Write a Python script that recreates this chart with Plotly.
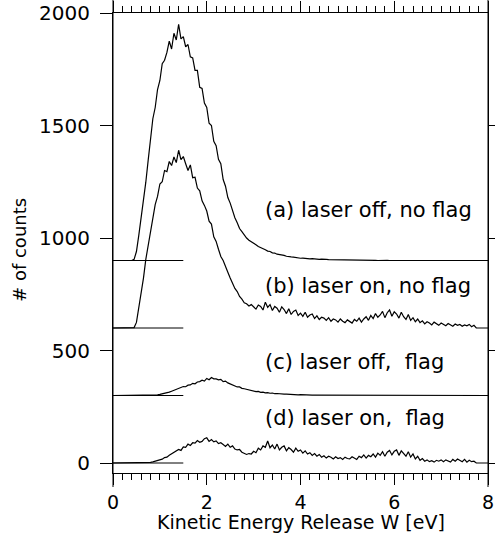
import plotly.graph_objects as go

# Kinetic energy release spectra, bin width 0.05 eV starting at 0 eV (counts above each offset)
bin_width = 0.05

counts_a = [
    0, 0, 0, 0, 0, 0, 0, 0, 0,
    5, 40, 112, 188, 272, 348, 445, 535,
    630, 680, 760, 800, 875, 890, 925, 975, 940, 1010,
    980, 1050, 985, 995, 950, 960, 905, 900, 845, 845,
    770, 765, 700, 680, 610, 600, 530, 510, 450, 430,
    360, 330, 280, 255, 220, 190, 168, 142, 128, 112,
    100, 90, 84, 76,
    70, 62, 58, 52, 48, 42, 40, 34, 33, 28,
    27, 23, 23, 19, 19, 16, 15, 13, 13, 10,
    11, 9, 9, 7, 8, 6, 7, 5, 6, 4,
    5, 4, 4, 3, 3, 3, 2, 3, 2, 2,
    2, 1, 2, 1, 2, 1, 1, 2, 1, 1,
    1, 1, 0, 1, 1, 0, 1, 0, 1, 0,
    0, 0, 0, 0, 0, 0, 0, 0, 0, 0,
    0, 0, 0, 0, 0, 0, 0, 0, 0, 0,
    0, 0, 0, 0, 0, 0, 0, 0, 0, 0,
    0, 0, 0, 0, 0, 0, 0, 0, 0, 0,
]

counts_b = [
    0, 0, 0, 0, 0, 0, 0, 0, 0,
    2, 25, 85, 152, 222, 305, 365, 440,
    490, 548, 585, 640, 650, 700, 695, 740, 722, 760,
    735, 790, 748, 762, 730, 700, 725, 668, 670, 622,
    610, 565, 545, 520, 475, 462, 405, 385, 350, 318,
    300, 270, 248, 222, 200, 176, 162, 140, 128, 112,
    108, 98, 104, 92,
    84, 102, 96, 80, 115, 92, 104, 78, 96, 88,
    70, 94, 82, 64, 86, 60, 74, 80, 56, 66,
    52, 70, 48, 58, 62, 42, 54, 38, 48, 44,
    34, 46, 30, 40, 36, 26, 40, 30, 24, 36,
    28, 22, 38, 30, 44, 26, 40, 50, 34, 56,
    42, 64, 48, 58, 74, 46, 68, 80, 52, 72,
    62, 44, 70, 50, 38, 60, 34, 46, 28, 40,
    24, 32, 18, 28, 22, 14, 26, 18, 12, 22,
    16, 10, 20, 14, 8, 18, 12, 16, 8, 14,
    10, 16, 6, 12, 0, 0, 0, 0, 0, 0,
]

counts_c = [
    0, 0, 0, 0, 0, 0, 0, 0, 0, 0, 0, 0, 0, 0, 0, 0,
    0, 1, 2, 3, 5, 7, 9, 12, 15, 19,
    23, 26, 31, 33, 40, 39, 46, 47, 54, 52,
    60, 62, 68, 64, 76, 70, 80, 74, 74, 70,
    72, 62, 64, 56, 52, 48, 44, 38, 38, 32,
    30, 27, 24, 22, 20,
    17, 18, 14, 15, 12, 13, 10, 11, 8, 9,
    7, 8, 6, 6, 5, 5, 4, 5, 3, 4,
    3, 3, 2, 3, 2, 2, 2, 2, 1, 2,
    1, 1, 1, 2, 1, 1, 1, 1, 0, 1,
    0, 0, 0, 0, 0, 0, 0, 0, 0, 0,
    0, 0, 0, 0, 0, 0, 0, 0, 0, 0,
    0, 0, 0, 0, 0, 0, 0, 0, 0, 0,
    0, 0, 0, 0, 0, 0, 0, 0, 0, 0,
    0, 0, 0, 0, 0, 0, 0, 0, 0, 0,
    0, 0, 0, 0, 0, 0, 0, 0, 0, 0,
]

counts_d = [
    0, 0, 0, 0, 0, 0, 0, 0, 0, 0, 0, 0, 0, 0,
    0, 1, 3, 5, 8, 10, 14, 17, 24, 26,
    34, 40, 46, 52, 60, 56, 72, 70, 84, 78,
    90, 88, 100, 92, 96, 108, 112, 96, 104, 94,
    98, 86, 90, 82, 74, 84, 70, 76, 62, 58,
    60, 48, 44, 38, 42,
    40, 52, 46, 66, 58, 76, 70, 98, 68, 80, 62,
    84, 58, 70, 76, 54, 68, 60, 48, 66, 52, 58,
    44, 54, 40, 46, 34, 42, 30, 38, 26, 32,
    22, 30, 26, 18, 28, 20, 24, 16, 26, 20,
    18, 28, 22, 16, 30, 24, 36, 22, 34, 28,
    40, 26, 44, 34, 50, 30, 48, 56, 36, 52,
    58, 34, 54, 44, 30, 50, 26, 40, 18, 30,
    12, 20, 8, 14, 6, 10, 4, 12, 8, 14,
    6, 14, 10, 4, 16, 8, 18, 10, 6, 16,
    4, 12, 6, 8, 0, 0, 0, 0, 0, 0,
]

series = [counts_a, counts_b, counts_c, counts_d]
offsets = [900, 600, 300, 0]
labels = [
    "(a) laser off, no flag",
    "(b) laser on, no flag",
    "(c) laser off,\u00a0 flag",
    "(d) laser on,\u00a0 flag",
]
label_y = [1124, 787, 449, 200]
label_x = 3.2
baseline_end = 1.5

x_ticks = [0, 2, 4, 6, 8]
y_ticks = [0, 500, 1000, 1500, 2000]
y_ticks_right = [0, 500, 1000, 1500]
y_range = [-44.4, 2000]

FONT = "DejaVu Sans"

fig = go.Figure()

for counts, off in zip(series, offsets):
    xs = [round(bin_width * i, 3) for i in range(len(counts))]
    ys = [off + c for c in counts]
    fig.add_trace(go.Scatter(x=xs, y=ys, mode="lines",
                             line=dict(color="black", width=1.2),
                             showlegend=False, hoverinfo="skip"))
    fig.add_trace(go.Scatter(x=[0, baseline_end], y=[off, off], mode="lines",
                             line=dict(color="black", width=1),
                             showlegend=False, hoverinfo="skip"))

# invisible trace for right axis
fig.add_trace(go.Scatter(x=[0], y=[0], yaxis="y2", mode="markers",
                         marker=dict(opacity=0), showlegend=False, hoverinfo="skip"))

for txt, yv in zip(labels, label_y):
    fig.add_annotation(x=label_x, y=yv, xref="x", yref="y", text=txt,
                       showarrow=False, xanchor="left", yanchor="middle",
                       font=dict(family=FONT, size=21, color="black"))

fig.add_annotation(x=0.5, y=-0.1065, xref="paper", yref="paper",
                   text="Kinetic Energy Release W [eV]", showarrow=False,
                   xanchor="center", yanchor="middle",
                   font=dict(family=FONT, size=19, color="black"))
fig.add_annotation(x=-0.248, y=0.485, xref="paper", yref="paper",
                   text="# of counts", showarrow=False, textangle=-90,
                   xanchor="center", yanchor="middle",
                   font=dict(family=FONT, size=18, color="black"))

# axis line extensions beyond the frame
for xp in [0, 1]:
    fig.add_shape(type="line", xref="paper", yref="paper",
                  x0=xp, x1=xp, y0=-14 / 460, y1=1 + 13 / 460,
                  line=dict(color="black", width=1))

fig.update_layout(
    width=495, height=545,
    margin=dict(l=113, r=7, t=13, b=72, autoexpand=False),
    plot_bgcolor="white", paper_bgcolor="white",
    font=dict(family=FONT, size=20, color="black"),
    xaxis=dict(range=[0, 8], tickvals=x_ticks, ticks="outside", ticklen=11,
               tickwidth=1, tickcolor="black", showline=True, linecolor="black",
               linewidth=1, mirror="ticks", showgrid=False, zeroline=False,
               automargin=False,
               minor=dict(dtick=0.2, tick0=0, ticks="outside", ticklen=6,
                          tickcolor="black", tickwidth=1, showgrid=False),
               tickfont=dict(family=FONT, size=19), ticklabelstandoff=1),
    yaxis=dict(range=y_range, tickvals=y_ticks, ticks="outside", ticklen=12,
               tickwidth=1, tickcolor="black", showline=True, linecolor="black",
               linewidth=1, showgrid=False, zeroline=False, automargin=False,
               tickfont=dict(family=FONT, size=20), ticklabelstandoff=6),
    yaxis2=dict(range=y_range, tickvals=y_ticks_right, ticks="outside", ticklen=12,
                tickwidth=1, tickcolor="black", showline=True, linecolor="black",
                linewidth=1, showgrid=False, zeroline=False, overlaying="y",
                side="right", showticklabels=False, automargin=False),
)

fig.write_html("out.html", config={"displayModeBar": False},
               post_script="document.body.style.margin='0';document.body.style.padding='0';")
